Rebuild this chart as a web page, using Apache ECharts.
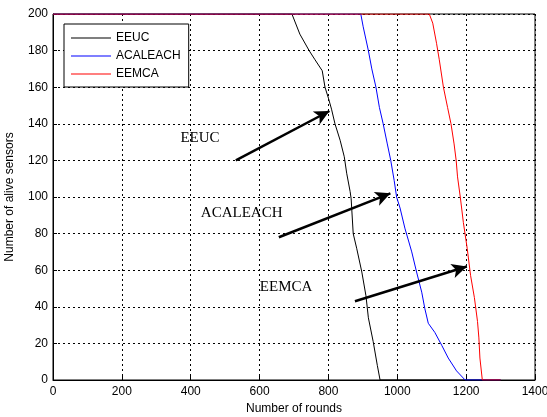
<!DOCTYPE html>
<html><head><meta charset="utf-8">
<script src="https://cdn.jsdelivr.net/npm/echarts@6/dist/echarts.min.js"></script>
<style>html,body{margin:0;padding:0;background:#fff}#c{width:547px;height:417px}</style>
</head><body><div id="c"></div>
<script>
const xTicks = [0,200,400,600,800,1000,1200,1400];
const yTicks = [0,20,40,60,80,100,120,140,160,180,200];
const eeuc = [[0,200],[694,200],[717,189],[744,180],[761,175],[782,169],[790,160],[800,154],[809,148],[819,140],[834,131],[846,122],[853,113],[863,103],[866,99],[872,80],[882,72],[897,59],[909,46],[916,34],[930,21],[942,8],[950,0],[1300,0]];
const acaleach = [[0,200],[894,200],[901,193],[916,180],[926,170],[938,160],[948,149],[959,140],[971,129],[981,120],[991,109],[998,100],[1008,94],[1022,83],[1042,70],[1056,59],[1071,48],[1080,39],[1090,31],[1109,26],[1129,19],[1148,12],[1172,5],[1197,0],[1300,0]];
const eemca = [[0,200],[1093,200],[1103,195],[1114,184],[1122,175],[1134,160],[1146,149],[1156,140],[1165,129],[1171,120],[1175,111],[1183,100],[1192,86],[1203,72],[1213,57],[1224,45],[1233,32],[1237,23],[1240,12],[1247,0],[1300,0]];
const annTexts = ['EEUC','ACALEACH','EEMCA'];
const annTextPos = [[427,132],[548,91],[677,51]];
const arrowFrom = [[531,120],[656,78],[877,43]];
const arrowTo = [[803,147],[980,102],[1202,62]];

const chart = echarts.init(document.getElementById('c'));
const sans = 'Liberation Sans, Arial, sans-serif';
const serif = 'Liberation Serif, Times New Roman, serif';
const arrows = arrowFrom.map((f,i)=>[{coord:f,symbol:'none'},{coord:arrowTo[i],symbol:'arrow'}]);
const labels = annTexts.map((t,i)=>({coord:annTextPos[i],value:t}));
chart.setOption({
  animation:false,
  backgroundColor:'#fff',
  grid:{left:53,right:12,top:14,bottom:37,containLabel:false,outerBoundsMode:'none',show:true,borderColor:'#000',borderWidth:1},
  legend:{
    left:64,top:24,orient:'vertical',
    backgroundColor:'#fff',borderColor:'#000',borderWidth:1,
    padding:[8,8,7,7],itemGap:6,itemWidth:40,itemHeight:13,
    icon:'path://M0,6 L40,6 L40,7.2 L0,7.2 Z',
    textStyle:{fontFamily:sans,fontSize:12,color:'#000'},
    data:['EEUC','ACALEACH','EEMCA']
  },
  xAxis:{type:'value',min:0,max:1400,interval:200,
    name:'Number of rounds',nameLocation:'middle',nameGap:22,
    nameTextStyle:{fontFamily:sans,fontSize:12,color:'#000'},
    axisLine:{lineStyle:{color:'#000',width:1}},
    axisTick:{inside:true,length:4,lineStyle:{color:'#000'}},
    axisLabel:{fontFamily:sans,fontSize:12,color:'#000',margin:6,
      formatter:v=>xTicks.includes(v)?String(v):''},
    splitLine:{show:true,lineStyle:{color:'#000',type:[2,3],width:1}}
  },
  yAxis:{type:'value',min:0,max:200,interval:20,
    name:'Number of alive sensors',nameLocation:'middle',nameGap:37,
    nameTextStyle:{fontFamily:sans,fontSize:12,color:'#000'},
    axisLine:{lineStyle:{color:'#000',width:1}},
    axisTick:{inside:true,length:4,lineStyle:{color:'#000'}},
    axisLabel:{fontFamily:sans,fontSize:12,color:'#000',margin:5,
      formatter:v=>yTicks.includes(v)?String(v):''},
    splitLine:{show:true,lineStyle:{color:'#000',type:[2,3],width:1}}
  },
  series:[
    {name:'EEUC',type:'line',data:eeuc,showSymbol:false,symbol:'none',
      lineStyle:{color:'#000',width:1},itemStyle:{color:'#000'},
      markLine:{silent:true,symbolSize:[11,15],label:{show:false},
        lineStyle:{color:'#000',width:2.5,type:'solid'},
        data:arrows},
      markPoint:{silent:true,symbol:'rect',symbolSize:1,itemStyle:{color:'rgba(0,0,0,0)'},
        label:{show:true,position:'inside',formatter:p=>p.value,fontFamily:serif,fontSize:15,color:'#000'},
        data:labels}
    },
    {name:'ACALEACH',type:'line',data:acaleach,showSymbol:false,symbol:'none',
      lineStyle:{color:'#0000ff',width:1},itemStyle:{color:'#0000ff'}},
    {name:'EEMCA',type:'line',data:eemca,showSymbol:false,symbol:'none',
      lineStyle:{color:'#ff0000',width:1},itemStyle:{color:'#ff0000'}}
  ]
});
</script></body></html>
